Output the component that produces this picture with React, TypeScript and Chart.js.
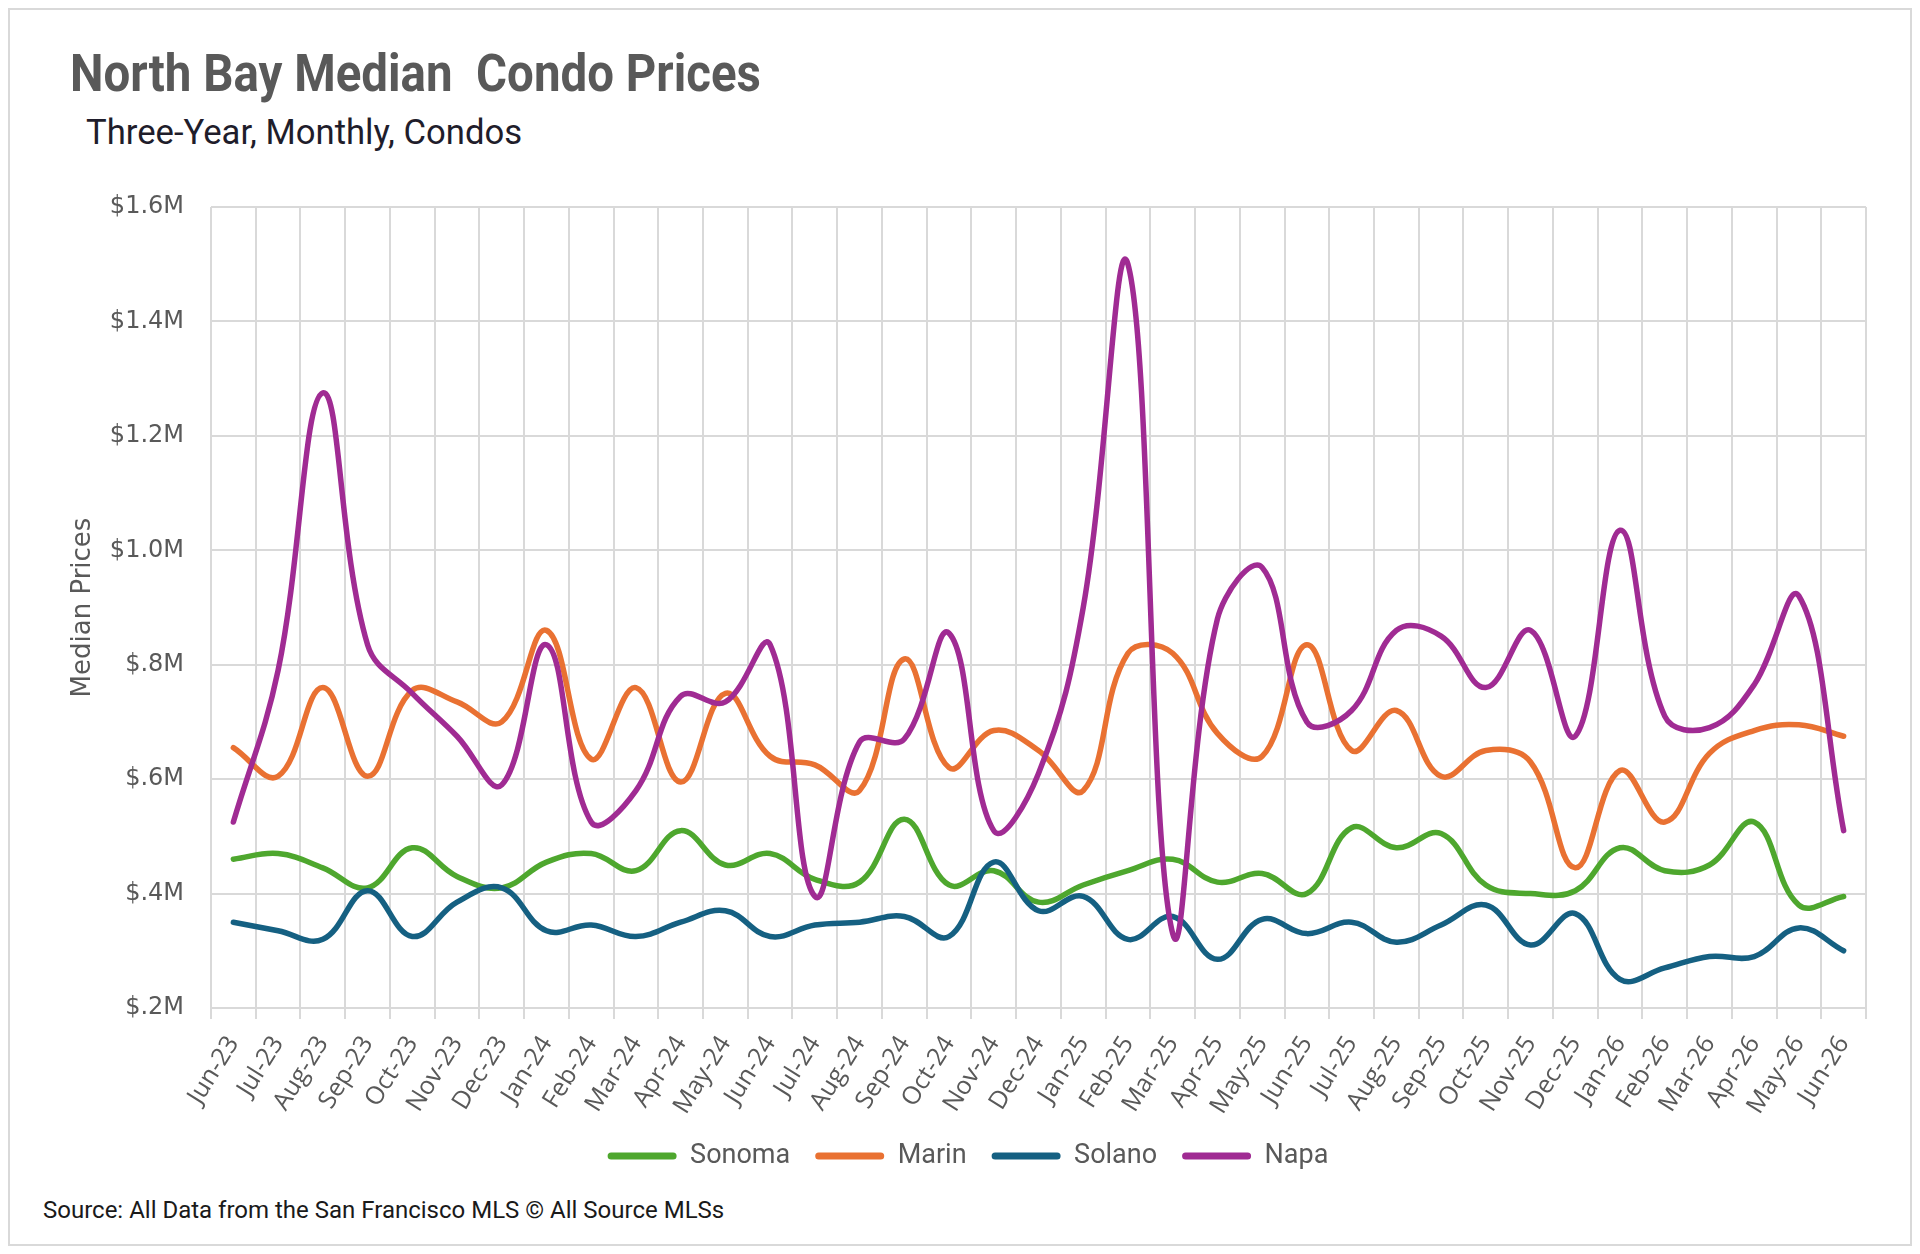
import React, { useEffect, useRef } from 'react';
import { Chart, registerables } from 'chart.js';

Chart.register(...registerables);

const months = [
  'Jun-23', 'Jul-23', 'Aug-23', 'Sep-23', 'Oct-23', 'Nov-23', 'Dec-23',
  'Jan-24', 'Feb-24', 'Mar-24', 'Apr-24', 'May-24', 'Jun-24', 'Jul-24', 'Aug-24', 'Sep-24', 'Oct-24', 'Nov-24', 'Dec-24',
  'Jan-25', 'Feb-25', 'Mar-25', 'Apr-25', 'May-25', 'Jun-25', 'Jul-25', 'Aug-25', 'Sep-25', 'Oct-25', 'Nov-25', 'Dec-25',
  'Jan-26', 'Feb-26', 'Mar-26', 'Apr-26', 'May-26', 'Jun-26',
];

const sonoma = [
  460000, 470000, 445000, 410000, 480000, 430000, 410000,
  455000, 470000, 440000, 510000, 450000, 470000, 425000, 420000, 530000, 415000, 440000, 385000,
  415000, 440000, 460000, 420000, 435000, 400000, 515000, 480000, 505000, 415000, 400000, 405000,
  480000, 440000, 450000, 525000, 380000, 395000,
];

const marin = [
  655000, 605000, 760000, 605000, 755000, 735000, 700000,
  860000, 635000, 760000, 595000, 750000, 640000, 625000, 580000, 810000, 620000, 685000, 650000,
  580000, 820000, 820000, 680000, 640000, 835000, 650000, 720000, 605000, 650000, 630000, 445000,
  615000, 525000, 645000, 685000, 695000, 675000,
];

const solano = [
  350000, 335000, 320000, 405000, 325000, 385000, 410000,
  335000, 345000, 325000, 350000, 370000, 325000, 345000, 350000, 360000, 325000, 455000, 370000,
  395000, 320000, 360000, 285000, 355000, 330000, 350000, 315000, 345000, 380000, 310000, 365000,
  250000, 270000, 290000, 290000, 340000, 300000,
];

const napa = [
  525000, 790000, 1275000, 835000, 750000, 675000, 590000,
  835000, 525000, 580000, 745000, 735000, 835000, 395000, 665000, 670000, 855000, 510000, 610000,
  900000, 1500000, 330000, 880000, 970000, 700000, 720000, 860000, 850000, 760000, 860000, 675000,
  1035000, 710000, 690000, 765000, 920000, 510000,
];

const yTickLabels = ['$.2M', '$.4M', '$.6M', '$.8M', '$1.0M', '$1.2M', '$1.4M', '$1.6M'];

const seriesNames = ['Sonoma', 'Marin', 'Solano', 'Napa'];
const seriesColors = ['#4EA72E', '#E97132', '#156082', '#A02B93'];

const GRID = '#d9d9d9';
const AXIS_TEXT = '#595959';

export default function App() {
  const canvasRef = useRef<HTMLCanvasElement>(null);

  useEffect(() => {
    const seriesData = [sonoma, marin, solano, napa];
    const chart = new Chart(canvasRef.current as HTMLCanvasElement, {
      type: 'line',
      data: {
        labels: months,
        datasets: seriesNames.map((name, i) => ({
          label: name,
          data: seriesData[i],
          borderColor: seriesColors[i],
          backgroundColor: seriesColors[i],
          borderWidth: 5.5,
          borderCapStyle: 'round' as const,
          borderJoinStyle: 'round' as const,
          pointRadius: 0,
          pointHoverRadius: 0,
          tension: 0.4,
          fill: false,
          order: 3 - i,
        })),
      },
      options: {
        animation: false,
        responsive: true,
        maintainAspectRatio: false,
        devicePixelRatio: 1,
        layout: { padding: { top: 47, right: 44, left: 60, bottom: 10.5 } },
        plugins: {
          tooltip: { enabled: false },
          legend: {
            position: 'bottom',
            labels: {
              boxWidth: 69,
              boxHeight: 7,
              padding: 25,
              color: AXIS_TEXT,
              useBorderRadius: true,
              borderRadius: 3.5,
              font: { family: 'Roboto', size: 27 },
              generateLabels: (c: any) =>
                Chart.defaults.plugins.legend.labels
                  .generateLabels(c)
                  .map((l: any) => ({ ...l, lineWidth: 0 }))
                  .sort((a: any, b: any) => a.datasetIndex - b.datasetIndex),
            },
          },
        },
        scales: {
          x: {
            offset: true,
            grid: {
              offset: true,
              color: GRID,
              lineWidth: 2,
              drawTicks: true,
              tickLength: 11,
              tickColor: GRID,
            },
            border: { display: true, color: GRID, width: 2 },
            ticks: {
              autoSkip: false,
              maxRotation: 58,
              minRotation: 58,
              padding: 12,
              color: AXIS_TEXT,
              font: { family: 'Open Sans', size: 25 },
            },
            afterFit: (scale: any) => {
              scale.height = 109.5;
            },
          },
          y: {
            min: 200000,
            max: 1600000,
            grid: { color: GRID, lineWidth: 2, drawTicks: false },
            border: { display: false },
            ticks: {
              stepSize: 200000,
              padding: 27,
              color: AXIS_TEXT,
              font: { family: 'DejaVu Sans', size: 24 },
              callback: (_v: any, index: number) => yTickLabels[index],
            },
            title: {
              display: true,
              text: 'Median Prices',
              color: AXIS_TEXT,
              font: { family: 'DejaVu Sans', size: 26, lineHeight: 0.74 },
              padding: { top: 4, bottom: 0 },
            },
            afterFit: (scale: any) => {
              scale.width = 141;
            },
          },
        },
      },
    });
    return () => chart.destroy();
  }, []);

  return (
    <div
      style={{
        position: 'relative',
        width: 1904,
        height: 1238,
        border: '2px solid #d9d9d9',
        boxSizing: 'border-box',
        background: '#ffffff',
        overflow: 'hidden',
      }}
    >
      <div
        style={{
          position: 'absolute',
          left: 60,
          top: 38,
          fontFamily: 'Roboto',
          fontWeight: 700,
          fontSize: 51,
          lineHeight: 1,
          color: '#595959',
          whiteSpace: 'pre',
          transform: 'scaleX(0.93)',
          transformOrigin: 'left top',
        }}
      >
        {'North Bay Median  Condo Prices'}
      </div>
      <div
        style={{
          position: 'absolute',
          left: 76,
          top: 105,
          fontFamily: 'Roboto',
          fontSize: 35,
          lineHeight: 1,
          color: '#1f1d2b',
          whiteSpace: 'pre',
          transform: 'scaleX(0.99)',
          transformOrigin: 'left top',
        }}
      >
        Three-Year, Monthly, Condos
      </div>
      <div
        style={{
          position: 'absolute',
          left: 0,
          top: 150,
          width: 1900,
          height: 1030,
        }}
      >
        <canvas ref={canvasRef} />
      </div>
      <div
        style={{
          position: 'absolute',
          left: 33,
          top: 1188,
          fontFamily: 'Roboto',
          fontSize: 24,
          lineHeight: 1,
          color: '#1a1a1a',
          whiteSpace: 'pre',
          transform: 'scaleX(1.0)',
          transformOrigin: 'left top',
        }}
      >
        Source: All Data from the San Francisco MLS © All Source MLSs
      </div>
    </div>
  );
}
